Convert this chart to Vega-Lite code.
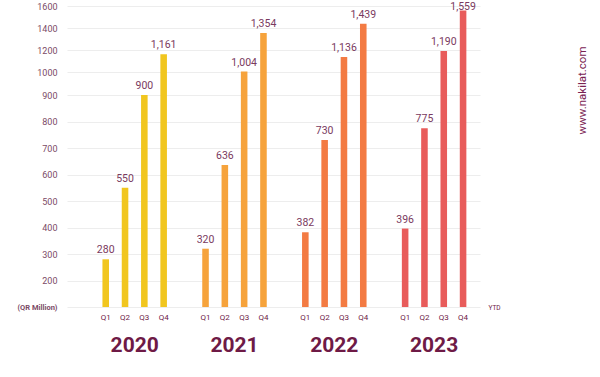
{
  "$schema": "https://vega.github.io/schema/vega-lite/v6.json",
  "width": 413,
  "height": 301,
  "autosize": {"type": "none"},
  "padding": {"left": 67, "top": 6, "right": 120, "bottom": 70},
  "background": "white",
  "config": {"view": {"stroke": null}, "font": "Roboto"},
  "data": {
    "values": [
      {"year": "2020", "quarter": "Q1", "value": 280},
      {"year": "2020", "quarter": "Q2", "value": 550},
      {"year": "2020", "quarter": "Q3", "value": 900},
      {"year": "2020", "quarter": "Q4", "value": 1161},
      {"year": "2021", "quarter": "Q1", "value": 320},
      {"year": "2021", "quarter": "Q2", "value": 636},
      {"year": "2021", "quarter": "Q3", "value": 1004},
      {"year": "2021", "quarter": "Q4", "value": 1354},
      {"year": "2022", "quarter": "Q1", "value": 382},
      {"year": "2022", "quarter": "Q2", "value": 730},
      {"year": "2022", "quarter": "Q3", "value": 1136},
      {"year": "2022", "quarter": "Q4", "value": 1439},
      {"year": "2023", "quarter": "Q1", "value": 396},
      {"year": "2023", "quarter": "Q2", "value": 775},
      {"year": "2023", "quarter": "Q3", "value": 1190},
      {"year": "2023", "quarter": "Q4", "value": 1559}
    ]
  },
  "encoding": {
    "x": {
      "field": "year",
      "type": "nominal",
      "scale": {"paddingInner": 0.226, "paddingOuter": 0.182, "align": 0.8},
      "axis": {
        "title": null,
        "domain": false,
        "ticks": false,
        "labelAngle": 0,
        "labelFontSize": 21,
        "labelFontWeight": "bold",
        "labelColor": "#6E1A46",
        "labelPadding": 27
      }
    },
    "xOffset": {
      "field": "quarter",
      "type": "nominal",
      "scale": {"paddingInner": 0.66, "paddingOuter": 0.33}
    }
  },
  "layer": [
    {
      "mark": {"type": "bar"},
      "encoding": {
        "y": {
          "field": "value",
          "type": "quantitative",
          "scale": {"domain": [100, 900, 1000, 1600], "range": [301, 89, 66, 0], "nice": false, "zero": false},
          "axis": {
            "title": null,
            "values": [100, 200, 300, 400, 500, 600, 700, 800, 900, 1000, 1200, 1400, 1600],
            "labelExpr": "datum.value == 100 ? '(QR Million)' : '' + datum.value",
            "domain": false,
            "ticks": false,
            "grid": true,
            "gridColor": "#EDEDED",
            "gridWidth": 1,
            "labelPadding": 10,
            "labelColor": "#7B4A66",
            "labelFontSize": {"condition": {"test": "datum.value == 100", "value": 7.5}, "value": 9},
            "labelFontWeight": {"condition": {"test": "datum.value == 100", "value": "bold"}, "value": "normal"}
          }
        },
        "y2": {"datum": 100},
        "color": {
          "field": "year",
          "type": "nominal",
          "scale": {"domain": ["2020", "2021", "2022", "2023"], "range": ["#F1C61F", "#F6A33C", "#F37B43", "#E85C5B"]},
          "legend": null
        }
      }
    },
    {
      "mark": {"type": "text", "baseline": "bottom", "dy": {"expr": "datum.value > 1500 ? 1 : -4"}, "fontSize": 10.5, "color": "#7A3A60"},
      "encoding": {
        "y": {"field": "value", "type": "quantitative", "axis": null},
        "text": {"field": "value", "type": "quantitative", "format": ","}
      }
    },
    {
      "mark": {"type": "text", "baseline": "middle", "dy": 11, "fontSize": 8, "color": "#6E1A46"},
      "encoding": {
        "y": {
          "datum": 100,
          "type": "quantitative",
          "axis": {
            "orient": "right",
            "values": [100],
            "labelExpr": "'YTD'",
            "grid": false,
            "domain": false,
            "ticks": false,
            "labelPadding": 8,
            "labelFontSize": 6.5,
            "labelColor": "#6E1A46",
            "title": "www.nakilat.com",
            "titleAngle": 270,
            "titleX": 102,
            "titleY": 84,
            "titleAlign": "center",
            "titleBaseline": "middle",
            "titleFontSize": 11.5,
            "titleFontWeight": "normal",
            "titleColor": "#7A2252"
          }
        },
        "text": {"field": "quarter"}
      }
    }
  ],
  "resolve": {"axis": {"y": "independent"}}
}
